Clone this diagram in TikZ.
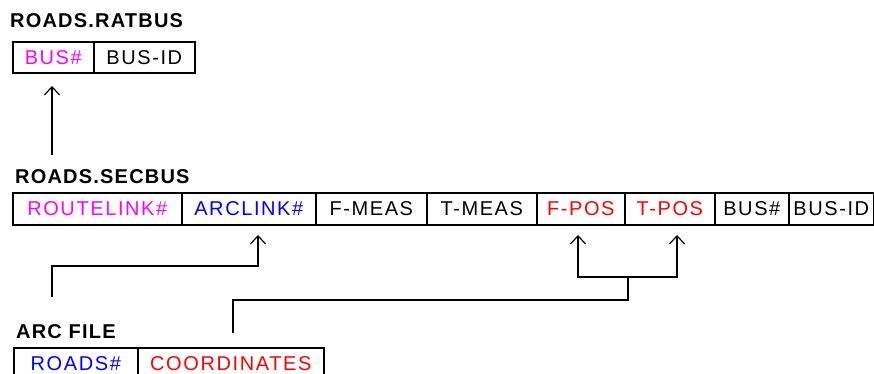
\documentclass[tikz,border=0pt]{standalone}
\usepackage{fontspec}
\setmainfont{Liberation Sans}
\newfontfamily\cellfont[LetterSpace=8]{Liberation Sans}
\newfontfamily\titlefont[LetterSpace=6]{Liberation Sans Bold}
\usetikzlibrary{arrows.meta}
\definecolor{fldmagenta}{RGB}{255,0,255}
\definecolor{fldblue}{RGB}{0,0,255}
\definecolor{fldred}{RGB}{255,0,0}
\tikzset{
  cell/.style={draw=black, line width=1.6pt, minimum height=#1, inner sep=0pt,
    anchor=north west, text height=14.3pt, text depth=0pt,
    font=\cellfont\fontsize{20}{22}\selectfont},
  cell/.default=32pt,
  tabletitle/.style={anchor=base west, inner sep=0pt,
    font=\titlefont\fontsize{20}{22}\selectfont},
  link/.style={line width=1.6pt, draw=black},
  arr/.style={link, -{Straight Barb[length=8pt, width=15pt, line width=1.2pt]}}
}
\begin{document}
\begin{tikzpicture}[x=1pt, y=-1pt]
\clip (0,0) rectangle (874,374);

% ROADS.RATBUS table
\node[tabletitle] (ttl1) at (10,28) {ROADS.RATBUS};
\node[cell=31pt, minimum width=81pt, text=fldmagenta] (bus1) at (12,41) {BUS\#};
\node[cell=31pt, minimum width=101pt] (busid1) at (93,41) {BUS-ID};

% ROADS.SECBUS table
\node[tabletitle] (ttl2) at (15,183) {ROADS.SECBUS};
\node[cell, minimum width=169pt, text=fldmagenta] (rl) at (12,192) {ROUTELINK\#};
\node[cell, minimum width=134pt, text=fldblue] (al) at (181,192) {ARCLINK\#};
\node[cell, minimum width=111pt] (fm) at (315,192) {F-MEAS};
\node[cell, minimum width=110pt] (tm) at (426,192) {T-MEAS};
\node[cell, minimum width=88pt, text=fldred] (fp) at (536,192) {F-POS};
\node[cell, minimum width=90pt, text=fldred] (tp) at (624,192) {T-POS};
\node[cell, minimum width=74pt] (bus2) at (714,192) {BUS\#};
\node[cell, minimum width=85pt] (busid2) at (788,192) {BUS-ID};

% ARC FILE table
\node[tabletitle] (ttl3) at (16,338) {ARC FILE};
\node[cell, minimum width=124pt, text=fldblue] (roads) at (13,347) {ROADS\#};
\node[cell, minimum width=186pt, text=fldred] (coord) at (137,347) {COORDINATES};

% connector end points
\coordinate (c1s) at (52,155);
\coordinate (c1e) at (52,86);
\coordinate (c2s) at (52,297);
\coordinate (c2e) at (258,235);
\coordinate (c3s) at (233,333);
\coordinate (c3j) at (628,277);
\coordinate (c3a) at (578,235);
\coordinate (c3b) at (677,235);

% links
\draw[arr] (c1s) -- (c1e);
\draw[arr] (c2s) -- (52,266) -| (c2e);
\draw[link] (c3s) -- (233,300) -| (c3j);
\draw[arr] (c3j) -| (c3a);
\draw[arr] (c3j) -| (c3b);
\end{tikzpicture}
\end{document}
